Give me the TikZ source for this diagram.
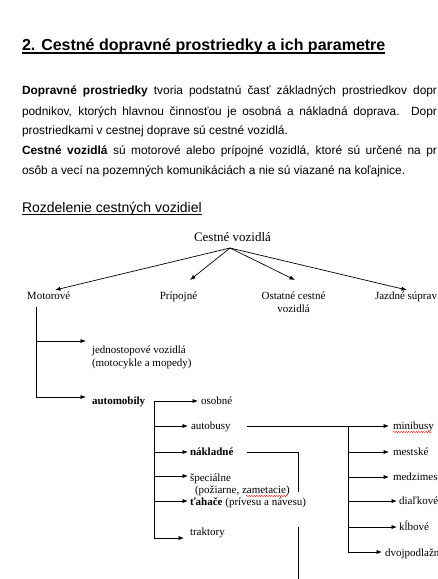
\documentclass[tikz,border=0pt]{standalone}
\usepackage{fontspec}
\setmainfont{Liberation Serif}
\setsansfont{Liberation Sans}
\usetikzlibrary{arrows.meta,decorations.pathmorphing}
\begin{document}
\begin{tikzpicture}[x=1pt,y=-1pt,
  every node/.style={inner sep=0pt,outer sep=0pt},
  para/.style={anchor=base west,font=\sffamily\fontsize{11.9}{14}\selectfont},
  dlab/.style={anchor=base west,font=\rmfamily\fontsize{11}{13}\selectfont},
  dbold/.style={dlab,font=\rmfamily\bfseries\fontsize{11}{13}\selectfont},
  conn/.style={line width=0.7pt,black},
  arr/.style={conn,-{Latex[length=5.5pt,width=4.2pt]}},
  squig/.style={red,line width=0.4pt,decorate,decoration={snake,amplitude=0.6pt,segment length=2.5pt}}
]
\clip (0,0) rectangle (438,579);
\fill[white] (0,0) rectangle (438,579);

% title
\node[anchor=base west,font=\sffamily\bfseries\fontsize{16}{19}\selectfont] (title) at (22,50) {2. Cestné dopravné prostriedky a ich parametre};
\draw[line width=1.1pt] ([yshift=-3pt]title.base west) -- ([yshift=-3pt]title.base east);

% paragraph
\node[para] (p1) at (22,94) {\makebox[415pt][s]{\textbf{Dopravné prostriedky} tvoria podstatnú časť základných prostriedkov dopr}};
\node[para] (p2) at (22,115) {\makebox[415pt][s]{podnikov, ktorých hlavnou činnosťou je osobná a nákladná doprava. Dopr}};
\node[para] (p3) at (22,134) {prostriedkami v cestnej doprave sú cestné vozidlá.};
\node[para] (p4) at (22,154) {\makebox[415pt][s]{\textbf{Cestné vozidlá} sú motorové alebo prípojné vozidlá, ktoré sú určené na pr}};
\node[para] (p5) at (22,174) {osôb a vecí na pozemných komunikáciách a nie sú viazané na koľajnice.};

% heading
\node[anchor=base west,font=\sffamily\fontsize{14}{17}\selectfont] (head) at (22,212) {Rozdelenie cestných vozidiel};
\draw[line width=0.6pt] ([yshift=-2.5pt]head.base west) -- ([yshift=-2.5pt]head.base east);

% top level
\node[anchor=base,font=\rmfamily\fontsize{13}{15}\selectfont] (root) at (232.5,241.5) {Cestné vozidlá};
\coordinate (apex) at (230,248);
\node[dlab] (mot) at (27,299) {Motorové};
\node[dlab,anchor=base] (prip) at (178.5,299) {Prípojné};
\node[dlab,anchor=base] (ost) at (293.5,299.5) {Ostatné cestné};
\node[dlab,anchor=base] (ost2) at (293.5,312) {vozidlá};
\node[dlab] (jaz) at (375,299) {Jazdné súprav};
\coordinate (tM) at (55,290);
\coordinate (tP) at (190,280);
\coordinate (tO) at (295,280);
\coordinate (tJ) at (407,290);
\draw[arr] (apex) -- (tM);
\draw[arr] (apex) -- (tP);
\draw[arr] (apex) -- (tO);
\draw[arr] (apex) -- (tJ);

% Motorove tree
\coordinate (mtop) at (36,307);
\coordinate (m1) at (36,341);
\coordinate (m2) at (36,397);
\coordinate (m1e) at (86,341);
\coordinate (m2e) at (86,397);
\draw[conn] (mtop) -- (m1);
\draw[arr] (m1) -- (m1e);
\draw[arr] (m1) -- (m2) -- (m2e);
\node[dlab] (jed) at (92,353) {jednostopové vozidlá};
\node[dlab] (jed2) at (92,366) {(motocykle a mopedy)};
\node[dbold] (auto) at (92,404) {automobily};

% automobily bracket
\coordinate (a0) at (154,401);
\coordinate (a1) at (154,426);
\coordinate (a2) at (154,452);
\coordinate (a3) at (154,476);
\coordinate (a4) at (154,501);
\coordinate (a5) at (154,538);
\coordinate (a0e) at (198,401);
\coordinate (a1e) at (188,426);
\coordinate (a2e) at (188,452);
\coordinate (a3e) at (188,476);
\coordinate (a4e) at (188,501);
\coordinate (a5e) at (184,538);
\draw[arr] (a0) -- (a0e);
\draw[arr] (a1) -- (a1e);
\draw[arr] (a2) -- (a2e);
\draw[arr] (a3) -- (a3e);
\draw[arr] (a4) -- (a4e);
\draw[arr] (a0) -- (a5) -- (a5e);
\node[dlab] (osob) at (201,404) {osobné};
\node[dlab] (abus) at (191,429) {autobusy};
\node[dbold] (nakl) at (190,455) {nákladné};
\node[dlab] (spec) at (190,481) {špeciálne};
\node[dlab] (spec2) at (195,493) {(požiarne, zametacie)};
\node[dlab] (tah) at (190,505) {\textbf{ťahače} (prívesu a návesu)};
\node[dlab] (trak) at (190,535) {traktory};

% autobusy subtree
\coordinate (bs) at (247,426);
\coordinate (bj) at (348,426);
\coordinate (b1) at (348,452);
\coordinate (b2) at (348,477);
\coordinate (b3) at (348,501);
\coordinate (b4) at (348,527);
\coordinate (b5) at (348,552);
\coordinate (b0e) at (389,426);
\coordinate (b1e) at (389,452);
\coordinate (b2e) at (389,477);
\coordinate (b3e) at (397,501);
\coordinate (b4e) at (397,527);
\coordinate (b5e) at (382,552);
\draw[arr] (bs) -- (b0e);
\draw[arr] (b1) -- (b1e);
\draw[arr] (b2) -- (b2e);
\draw[arr] (b3) -- (b3e);
\draw[arr] (b4) -- (b4e);
\draw[arr] (bj) -- (b5) -- (b5e);
\node[dlab] (mini) at (393,429) {minibusy};
\node[dlab] (mest) at (393,455) {mestské};
\node[dlab] (medz) at (393,480) {medzimes};
\node[dlab] (dial) at (399,504) {diaľkové};
\node[dlab] (klb) at (399,530) {kĺbové};
\node[dlab] (dvoj) at (385,556) {dvojpodlažn};

% nakladne line
\coordinate (ns) at (247,452);
\coordinate (nc) at (298,452);
\coordinate (ne) at (298,492);
\coordinate (n2s) at (298,527);
\coordinate (n2e) at (298,580);
\draw[conn] (ns) -- (nc) -- (ne);
\draw[conn] (n2s) -- (n2e);

% spell-check squiggles
\coordinate (sq1a) at (393,432);
\coordinate (sq1b) at (432,432);
\coordinate (sq2a) at (246,496);
\coordinate (sq2b) at (288,496);
\draw[squig] (sq1a) -- (sq1b);
\draw[squig] (sq2a) -- (sq2b);
\end{tikzpicture}
\end{document}
